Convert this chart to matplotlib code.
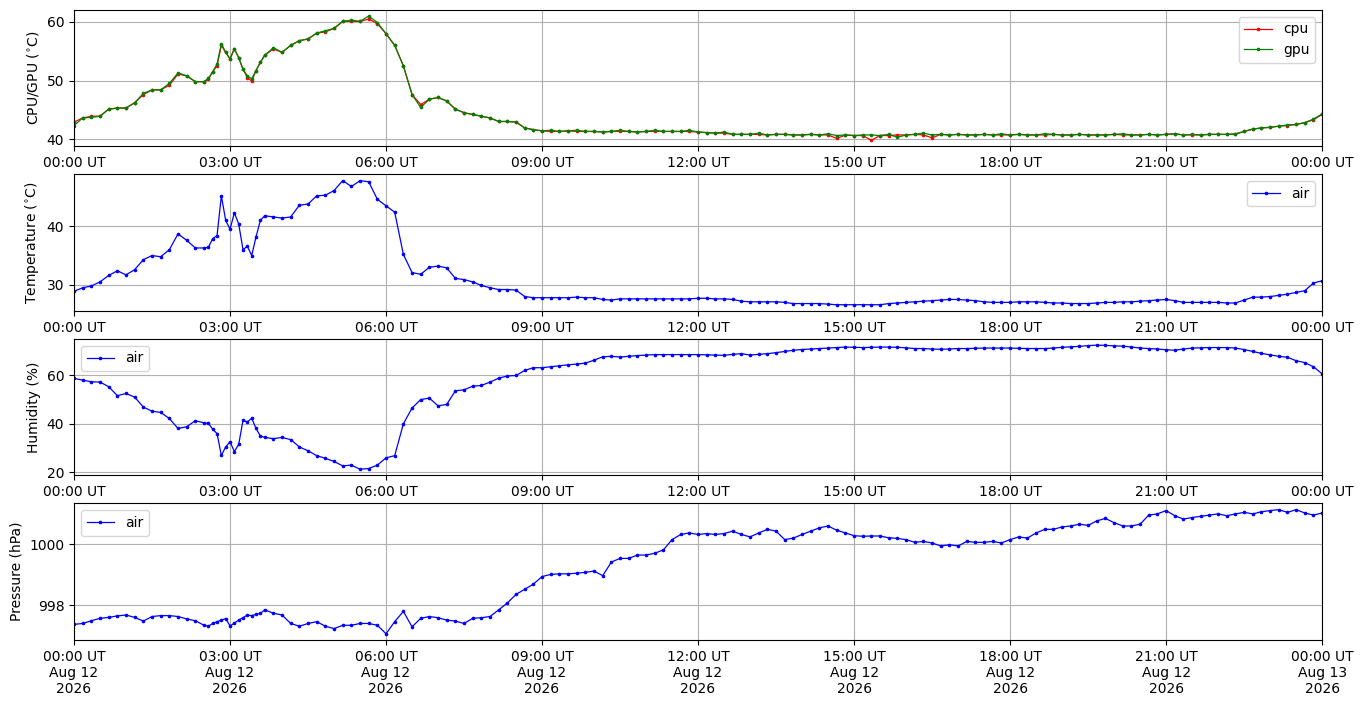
import datetime as dt

import matplotlib
matplotlib.use("Agg")
import matplotlib.dates as mdates
import matplotlib.pyplot as plt

# sample times: minutes after 00:00 UT, 12 Aug 2026 (finer around the 03:00 wiggles)
minutes = list(range(0, 150, 10)) + list(range(150, 220, 5)) + list(range(220, 1441, 10))

cpu = [
    42.9, 43.6, 43.9, 43.9, 45.1, 45.3, 45.3, 46.2, 47.6, 48.4, 48.4, 49.2, 51.1, 50.8, 49.8,
    49.8, 50.2, 51.5, 52.5, 56.0, 54.8, 53.7, 55.4, 53.9, 51.9, 50.5, 49.9, 51.7, 53.1,
    54.3, 55.4,
    54.8, 56.0, 56.8, 57.1, 58.1, 58.3,
    58.9, 60.1, 60.1, 60.1, 60.5, 59.7,
    58.0, 56.0, 52.5, 47.6, 45.9, 46.8,
    47.1, 46.5, 45.1, 44.5, 44.2, 43.9,
    43.6, 43.0, 43.0, 42.9, 41.9, 41.6,
    41.4, 41.3, 41.3, 41.4, 41.3, 41.3,
    41.3, 41.2, 41.3, 41.3, 41.3, 41.2,
    41.3, 41.3, 41.3, 41.3, 41.3, 41.3,
    41.2, 41.1, 41.0, 41.0, 40.8, 40.8,
    40.8, 40.8, 40.7, 40.8, 40.8, 40.7,
    40.7, 40.8, 40.7, 40.7, 40.1, 40.7,
    40.6, 40.6, 39.8, 40.6, 40.6, 40.7,
    40.7, 40.8, 40.7, 40.2, 40.8, 40.7,
    40.8, 40.7, 40.7, 40.8, 40.7, 40.7,
    40.7, 40.8, 40.7, 40.7, 40.7, 40.8,
    40.7, 40.7, 40.8, 40.7, 40.7, 40.7,
    40.8, 40.7, 40.7, 40.7, 40.8, 40.7,
    40.8, 40.9, 40.7, 40.7, 40.7, 40.8,
    40.8, 40.8, 40.8, 41.3, 41.7, 41.9,
    42.0, 42.2, 42.3, 42.5, 42.8, 43.3,
    44.2,
]

gpu = [
    42.3, 43.6, 43.7, 43.9, 45.1, 45.3, 45.3, 46.2, 47.8, 48.4, 48.4, 49.5, 51.3, 50.8, 49.8,
    49.8, 50.4, 51.5, 52.8, 56.3, 54.8, 53.7, 55.4, 53.9, 51.9, 50.8, 50.3, 51.7, 53.1,
    54.3, 55.6,
    54.8, 56.0, 56.8, 57.1, 58.1, 58.5,
    58.9, 60.1, 60.3, 60.1, 61.0, 59.9,
    58.0, 56.0, 52.5, 47.6, 45.4, 46.8,
    47.1, 46.5, 45.1, 44.5, 44.2, 43.9,
    43.6, 43.0, 43.0, 42.9, 41.9, 41.6,
    41.4, 41.5, 41.3, 41.4, 41.5, 41.3,
    41.3, 41.2, 41.3, 41.5, 41.3, 41.2,
    41.3, 41.5, 41.3, 41.3, 41.3, 41.5,
    41.2, 41.1, 41.0, 41.2, 40.8, 40.8,
    40.8, 41.0, 40.7, 40.8, 40.8, 40.7,
    40.7, 40.8, 40.7, 40.9, 40.6, 40.7,
    40.6, 40.7, 40.7, 40.6, 40.8, 40.3,
    40.7, 40.8, 41.0, 40.7, 40.8, 40.7,
    40.8, 40.7, 40.7, 40.8, 40.7, 40.9,
    40.7, 40.8, 40.7, 40.7, 40.9, 40.8,
    40.7, 40.7, 40.8, 40.7, 40.7, 40.7,
    40.8, 40.9, 40.7, 40.7, 40.8, 40.7,
    40.8, 40.9, 40.7, 40.8, 40.7, 40.8,
    40.8, 40.8, 40.9, 41.3, 41.7, 41.9,
    42.0, 42.2, 42.4, 42.5, 42.8, 43.4,
    44.3,
]

temperature = [
    28.9, 29.5, 29.8, 30.5, 31.6, 32.4, 31.7, 32.6, 34.3, 35.0, 34.8, 36.0, 38.7, 37.6, 36.3,
    36.3, 36.4, 37.9, 38.4, 45.2, 41.0, 39.5, 42.3, 40.4, 36.0, 36.6, 35.0, 38.2, 41.0,
    41.8, 41.6,
    41.4, 41.6, 43.6, 43.8, 45.2, 45.3,
    46.1, 47.8, 46.8, 47.8, 47.6, 44.6,
    43.5, 42.4, 35.2, 32.1, 31.8, 33.0,
    33.2, 32.9, 31.1, 30.9, 30.5, 29.9,
    29.5, 29.2, 29.2, 29.1, 28.0, 27.8,
    27.8, 27.8, 27.8, 27.8, 27.9, 27.8,
    27.8, 27.5, 27.4, 27.6, 27.6, 27.6,
    27.6, 27.6, 27.6, 27.6, 27.6, 27.6,
    27.7, 27.7, 27.6, 27.6, 27.5, 27.2,
    27.1, 27.1, 27.1, 27.1, 27.0, 26.8,
    26.8, 26.8, 26.8, 26.7, 26.6, 26.6,
    26.6, 26.6, 26.6, 26.6, 26.8, 26.9,
    27.0, 27.1, 27.2, 27.3, 27.4, 27.5,
    27.5, 27.4, 27.3, 27.1, 27.0, 27.0,
    27.0, 27.1, 27.1, 27.1, 27.0, 26.9,
    26.9, 26.8, 26.8, 26.8, 26.9, 27.0,
    27.0, 27.1, 27.1, 27.2, 27.3, 27.4,
    27.5, 27.3, 27.0, 27.0, 27.0, 27.0,
    27.0, 26.9, 26.9, 27.4, 27.9, 27.9,
    28.0, 28.2, 28.4, 28.7, 29.0, 30.3,
    30.7,
]

humidity = [
    58.7, 58.0, 57.3, 57.2, 55.3, 51.6, 52.5, 51.0, 46.9, 45.2, 44.7, 42.2, 38.1, 38.8, 41.3,
    40.4, 40.2, 37.8, 36.0, 27.0, 30.5, 32.6, 28.6, 31.5, 41.5, 40.8, 42.3, 38.1, 35.0,
    34.4, 33.9,
    34.4, 33.5, 30.5, 28.9, 26.9, 25.8,
    24.5, 22.7, 23.0, 21.3, 21.6, 23.0,
    26.0, 26.9, 40.0, 46.5, 50.0, 50.6,
    47.4, 48.0, 53.6, 54.0, 55.5, 55.8,
    57.2, 58.8, 59.7, 59.9, 62.0, 63.1,
    63.1, 63.5, 63.9, 64.3, 64.6, 65.0,
    66.2, 67.6, 67.8, 67.5, 67.8, 68.1,
    68.3, 68.5, 68.5, 68.5, 68.5, 68.5,
    68.5, 68.4, 68.3, 68.2, 68.6, 68.9,
    68.3, 68.6, 68.9, 69.3, 69.8, 70.3,
    70.6, 70.8, 71.0, 71.2, 71.4, 71.6,
    71.5, 71.4, 71.5, 71.6, 71.6, 71.5,
    71.3, 71.0, 71.0, 70.8, 70.7, 70.8,
    71.0, 71.0, 71.1, 71.2, 71.2, 71.2,
    71.2, 71.1, 71.0, 71.0, 71.0, 71.2,
    71.5, 71.7, 71.9, 72.2, 72.4, 72.3,
    72.1, 72.0, 71.6, 71.2, 71.0, 70.8,
    70.5, 70.3, 70.8, 71.2, 71.3, 71.4,
    71.4, 71.4, 71.2, 70.6, 69.8, 69.0,
    68.4, 67.8, 67.4, 66.0, 65.2, 63.5,
    60.6,
]

pressure = [
    997.36, 997.39, 997.48, 997.56, 997.59, 997.64, 997.67, 997.59, 997.47, 997.62,
    997.65, 997.65, 997.62, 997.54, 997.48,
    997.33, 997.30, 997.39, 997.45, 997.50, 997.55, 997.31, 997.40, 997.50, 997.58,
    997.67, 997.65, 997.69, 997.72,
    997.84, 997.73,
    997.67, 997.39, 997.30, 997.39, 997.45, 997.30,
    997.22, 997.33, 997.33, 997.39, 997.39, 997.33,
    997.05, 997.45, 997.79, 997.28, 997.56, 997.62,
    997.58, 997.50, 997.47, 997.39, 997.56, 997.58,
    997.62, 997.84, 998.07, 998.35, 998.52, 998.69,
    998.94, 999.01, 999.03, 999.03, 999.05, 999.08,
    999.12, 998.97, 999.42, 999.54, 999.54, 999.65,
    999.65, 999.71, 999.82, 1000.16, 1000.33, 1000.38,
    1000.33, 1000.36, 1000.33, 1000.36, 1000.44, 1000.33,
    1000.25, 1000.38, 1000.50, 1000.44, 1000.16, 1000.21,
    1000.33, 1000.44, 1000.55, 1000.61, 1000.47, 1000.38,
    1000.29, 1000.27, 1000.28, 1000.28, 1000.22, 1000.20,
    1000.16, 1000.07, 1000.10, 1000.05, 999.95, 999.99,
    999.95, 1000.10, 1000.07, 1000.07, 1000.10, 1000.05,
    1000.16, 1000.25, 1000.21, 1000.38, 1000.50, 1000.50,
    1000.58, 1000.61, 1000.67, 1000.63, 1000.78, 1000.86,
    1000.72, 1000.61, 1000.61, 1000.67, 1000.97, 1001.01,
    1001.12, 1000.95, 1000.84, 1000.89, 1000.93, 1000.97,
    1001.01, 1000.95, 1001.01, 1001.06, 1001.01, 1001.08,
    1001.12, 1001.15, 1001.06, 1001.15, 1001.04, 1000.97,
    1001.04,
]

start = dt.datetime(2026, 8, 12)
end = dt.datetime(2026, 8, 13)
times = [start + dt.timedelta(minutes=m) for m in minutes]

fig, axes = plt.subplots(4, 1, figsize=(13.63, 7.07), dpi=100)
fig.subplots_adjust(left=0.0543, right=0.97, top=0.986, bottom=0.0948, hspace=0.205)

style = dict(marker=".", markersize=3.2, linewidth=0.9)

ax = axes[0]
ax.plot(times, cpu, color="r", label="cpu", **style)
ax.plot(times, gpu, color="g", label="gpu", **style)
ax.set_ylabel(r"CPU/GPU ($^{\circ}$C)")
ax.legend(loc="upper right")

ax = axes[1]
ax.plot(times, temperature, color="b", label="air", **style)
ax.set_ylabel(r"Temperature ($^{\circ}$C)")
ax.legend(loc="upper right")

ax = axes[2]
ax.plot(times, humidity, color="b", label="air", **style)
ax.set_ylabel("Humidity (%)")
ax.legend(loc="upper left")

ax = axes[3]
ax.plot(times, pressure, color="b", label="air", **style)
ax.set_ylabel("Pressure (hPa)")
ax.legend(loc="upper left")

for i, ax in enumerate(axes):
    ax.set_xlim(start, end)
    ax.grid(True)
    ax.xaxis.set_major_locator(mdates.HourLocator(byhour=range(0, 24, 3)))
    if i == 3:
        ax.xaxis.set_major_formatter(mdates.DateFormatter("%H:%M UT\n%b %d\n%Y"))
    else:
        ax.xaxis.set_major_formatter(mdates.DateFormatter("%H:%M UT"))

fig.savefig("out.png")
